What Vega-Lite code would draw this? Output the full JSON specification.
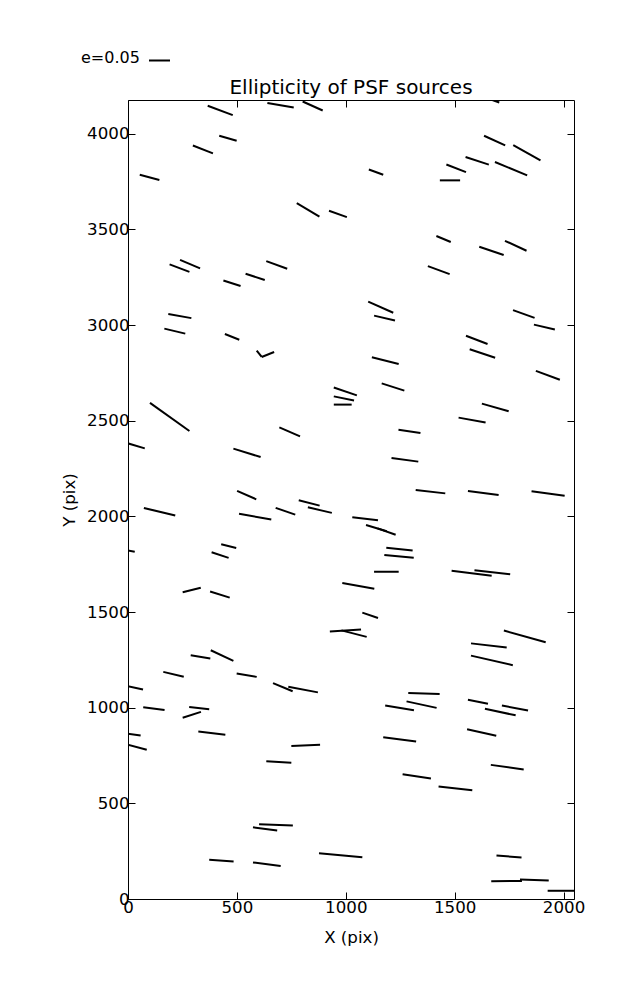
{
  "$schema": "https://vega.github.io/schema/vega-lite/v6.json",
  "width": 446,
  "height": 799,
  "autosize": "none",
  "padding": {"left": 128, "top": 100, "right": 63, "bottom": 101},
  "background": "white",
  "config": {
    "font": "DejaVu Sans",
    "view": {"stroke": "black", "strokeWidth": 1},
    "axis": {
      "domain": false,
      "grid": false,
      "tickSize": -7,
      "tickColor": "black",
      "tickWidth": 1,
      "labelColor": "black",
      "labelFont": "DejaVu Sans",
      "labelFontSize": 16.67,
      "labelPadding": 7,
      "labelFlush": false,
      "labelOverlap": false,
      "labelBound": false,
      "format": "d",
      "titleFont": "DejaVu Sans",
      "titleFontSize": 16.67,
      "titleFontWeight": "normal",
      "titleColor": "black"
    }
  },
  "title": {"text": "Ellipticity of PSF sources", "font": "DejaVu Sans", "fontSize": 20, "fontWeight": "normal", "color": "black", "anchor": "middle", "offset": -49},
  "data": {"values": [
    {"x": 366, "y": 4146, "x2": 481, "y2": 4097},
    {"x": 640, "y": 4160, "x2": 761, "y2": 4137},
    {"x": 802, "y": 4168, "x2": 894, "y2": 4121},
    {"x": 419, "y": 3989, "x2": 499, "y2": 3963},
    {"x": 298, "y": 3938, "x2": 390, "y2": 3897},
    {"x": 54, "y": 3785, "x2": 144, "y2": 3758},
    {"x": 775, "y": 3637, "x2": 879, "y2": 3567},
    {"x": 923, "y": 3597, "x2": 1005, "y2": 3564},
    {"x": 191, "y": 3317, "x2": 282, "y2": 3278},
    {"x": 239, "y": 3340, "x2": 331, "y2": 3296},
    {"x": 438, "y": 3233, "x2": 517, "y2": 3204},
    {"x": 540, "y": 3268, "x2": 628, "y2": 3235},
    {"x": 635, "y": 3334, "x2": 731, "y2": 3294},
    {"x": 1650, "y": 4185, "x2": 1705, "y2": 4163},
    {"x": 1635, "y": 3989, "x2": 1732, "y2": 3939},
    {"x": 1769, "y": 3940, "x2": 1894, "y2": 3860},
    {"x": 1106, "y": 3813, "x2": 1172, "y2": 3785},
    {"x": 1462, "y": 3839, "x2": 1552, "y2": 3799},
    {"x": 1550, "y": 3878, "x2": 1657, "y2": 3838},
    {"x": 1685, "y": 3852, "x2": 1833, "y2": 3782},
    {"x": 1432, "y": 3756, "x2": 1525, "y2": 3756},
    {"x": 1416, "y": 3465, "x2": 1482, "y2": 3434},
    {"x": 1613, "y": 3409, "x2": 1725, "y2": 3366},
    {"x": 1731, "y": 3440, "x2": 1830, "y2": 3388},
    {"x": 1377, "y": 3308, "x2": 1477, "y2": 3266},
    {"x": 185, "y": 3057, "x2": 291, "y2": 3036},
    {"x": 167, "y": 2981, "x2": 263, "y2": 2955},
    {"x": 445, "y": 2953, "x2": 511, "y2": 2923},
    {"x": 591, "y": 2866, "x2": 614, "y2": 2833},
    {"x": 614, "y": 2833, "x2": 671, "y2": 2859},
    {"x": 101, "y": 2593, "x2": 282, "y2": 2446},
    {"x": -5, "y": 2383, "x2": 77, "y2": 2355},
    {"x": 484, "y": 2354, "x2": 609, "y2": 2310},
    {"x": 695, "y": 2465, "x2": 790, "y2": 2418},
    {"x": 501, "y": 2133, "x2": 589, "y2": 2089},
    {"x": 1103, "y": 3122, "x2": 1218, "y2": 3064},
    {"x": 1130, "y": 3049, "x2": 1226, "y2": 3024},
    {"x": 1768, "y": 3078, "x2": 1867, "y2": 3037},
    {"x": 1864, "y": 3002, "x2": 1960, "y2": 2977},
    {"x": 1552, "y": 2944, "x2": 1651, "y2": 2901},
    {"x": 1569, "y": 2873, "x2": 1686, "y2": 2829},
    {"x": 1120, "y": 2831, "x2": 1243, "y2": 2796},
    {"x": 1873, "y": 2760, "x2": 1983, "y2": 2714},
    {"x": 1165, "y": 2695, "x2": 1269, "y2": 2657},
    {"x": 945, "y": 2673, "x2": 1051, "y2": 2632},
    {"x": 945, "y": 2627, "x2": 1038, "y2": 2605},
    {"x": 945, "y": 2584, "x2": 1027, "y2": 2584},
    {"x": 1625, "y": 2589, "x2": 1748, "y2": 2549},
    {"x": 1518, "y": 2516, "x2": 1642, "y2": 2491},
    {"x": 1242, "y": 2453, "x2": 1343, "y2": 2436},
    {"x": 1210, "y": 2305, "x2": 1333, "y2": 2286},
    {"x": 1321, "y": 2138, "x2": 1457, "y2": 2120},
    {"x": 1561, "y": 2133, "x2": 1702, "y2": 2112},
    {"x": 1853, "y": 2131, "x2": 2005, "y2": 2107},
    {"x": 784, "y": 2084, "x2": 880, "y2": 2056},
    {"x": 826, "y": 2047, "x2": 936, "y2": 2018},
    {"x": 73, "y": 2044, "x2": 217, "y2": 2004},
    {"x": 510, "y": 2014, "x2": 658, "y2": 1983},
    {"x": 678, "y": 2044, "x2": 768, "y2": 2009},
    {"x": -10, "y": 1823, "x2": 31, "y2": 1815},
    {"x": 428, "y": 1854, "x2": 497, "y2": 1835},
    {"x": 384, "y": 1812, "x2": 462, "y2": 1783},
    {"x": 251, "y": 1603, "x2": 334, "y2": 1627},
    {"x": 377, "y": 1607, "x2": 467, "y2": 1575},
    {"x": 288, "y": 1274, "x2": 378, "y2": 1257},
    {"x": 380, "y": 1300, "x2": 484, "y2": 1245},
    {"x": 162, "y": 1187, "x2": 256, "y2": 1162},
    {"x": 499, "y": 1178, "x2": 591, "y2": 1161},
    {"x": 666, "y": 1128, "x2": 756, "y2": 1086},
    {"x": 736, "y": 1109, "x2": 872, "y2": 1080},
    {"x": -10, "y": 1115, "x2": 69, "y2": 1095},
    {"x": 1030, "y": 1995, "x2": 1148, "y2": 1979},
    {"x": 1093, "y": 1955, "x2": 1188, "y2": 1922},
    {"x": 1146, "y": 1937, "x2": 1229, "y2": 1904},
    {"x": 1186, "y": 1836, "x2": 1307, "y2": 1822},
    {"x": 1177, "y": 1798, "x2": 1312, "y2": 1783},
    {"x": 1130, "y": 1710, "x2": 1243, "y2": 1711},
    {"x": 1486, "y": 1715, "x2": 1670, "y2": 1689},
    {"x": 1591, "y": 1718, "x2": 1755, "y2": 1697},
    {"x": 984, "y": 1652, "x2": 1131, "y2": 1622},
    {"x": 1076, "y": 1497, "x2": 1148, "y2": 1469},
    {"x": 927, "y": 1398, "x2": 1070, "y2": 1408},
    {"x": 980, "y": 1404, "x2": 1096, "y2": 1370},
    {"x": 1726, "y": 1403, "x2": 1918, "y2": 1342},
    {"x": 1575, "y": 1336, "x2": 1739, "y2": 1314},
    {"x": 1575, "y": 1272, "x2": 1767, "y2": 1222},
    {"x": 1287, "y": 1077, "x2": 1431, "y2": 1072},
    {"x": 70, "y": 1002, "x2": 168, "y2": 988},
    {"x": 281, "y": 1004, "x2": 373, "y2": 992},
    {"x": 251, "y": 947, "x2": 335, "y2": 978},
    {"x": 323, "y": 875, "x2": 447, "y2": 859},
    {"x": -5, "y": 865, "x2": 58, "y2": 854},
    {"x": -5, "y": 808, "x2": 86, "y2": 780},
    {"x": 750, "y": 800, "x2": 882, "y2": 806},
    {"x": 635, "y": 720, "x2": 750, "y2": 712},
    {"x": 602, "y": 391, "x2": 757, "y2": 384},
    {"x": 574, "y": 375, "x2": 685, "y2": 358},
    {"x": 373, "y": 205, "x2": 485, "y2": 196},
    {"x": 574, "y": 191, "x2": 701, "y2": 173},
    {"x": 1279, "y": 1033, "x2": 1417, "y2": 999},
    {"x": 1181, "y": 1011, "x2": 1313, "y2": 986},
    {"x": 1561, "y": 1041, "x2": 1653, "y2": 1020},
    {"x": 1639, "y": 994, "x2": 1780, "y2": 960},
    {"x": 1717, "y": 1011, "x2": 1837, "y2": 985},
    {"x": 1557, "y": 887, "x2": 1691, "y2": 853},
    {"x": 1172, "y": 845, "x2": 1323, "y2": 823},
    {"x": 1666, "y": 701, "x2": 1817, "y2": 677},
    {"x": 1261, "y": 652, "x2": 1391, "y2": 630},
    {"x": 1426, "y": 588, "x2": 1581, "y2": 568},
    {"x": 877, "y": 239, "x2": 1076, "y2": 218},
    {"x": 1692, "y": 227, "x2": 1807, "y2": 217},
    {"x": 1668, "y": 93, "x2": 1809, "y2": 94},
    {"x": 1800, "y": 102, "x2": 1932, "y2": 97},
    {"x": 1927, "y": 43, "x2": 2060, "y2": 43}
  ]},
  "layer": [
    {
      "mark": {"type": "rule", "strokeWidth": 2, "strokeCap": "butt", "clip": true},
      "encoding": {
        "x": {"field": "x", "type": "quantitative", "scale": {"domain": [0, 2048], "nice": false, "zero": false},
              "axis": {"orient": "bottom", "values": [0, 500, 1000, 1500, 2000], "title": "X (pix)", "titlePadding": 14}},
        "y": {"field": "y", "type": "quantitative", "scale": {"domain": [0, 4176], "nice": false, "zero": false},
              "axis": {"orient": "left", "values": [0, 500, 1000, 1500, 2000, 2500, 3000, 3500, 4000], "title": "Y (pix)", "titlePadding": 8, "labelPadding": 6}},
        "x2": {"field": "x2"},
        "y2": {"field": "y2"},
        "color": {"datum": "e", "type": "nominal", "scale": {"range": ["black"]},
                  "legend": {"title": "e=0.05", "titleOrient": "left", "titleAnchor": "end", "titleFontSize": 16, "titleFontWeight": "normal", "titleColor": "black", "titleFont": "DejaVu Sans", "titlePadding": 8, "titleBaseline": "bottom", "labelExpr": "''", "symbolType": "stroke", "symbolSize": 441, "symbolStrokeWidth": 2, "symbolStrokeColor": "black", "orient": "none", "legendX": -47, "legendY": -51}}
      }
    },
    {
      "mark": {"type": "rule", "opacity": 0},
      "encoding": {
        "x": {"field": "x", "type": "quantitative", "scale": {"domain": [0, 2048], "nice": false, "zero": false},
              "axis": {"orient": "top", "values": [0, 500, 1000, 1500, 2000], "labels": false, "title": null}},
        "y": {"field": "y", "type": "quantitative", "scale": {"domain": [0, 4176], "nice": false, "zero": false},
              "axis": {"orient": "right", "values": [0, 500, 1000, 1500, 2000, 2500, 3000, 3500, 4000], "labels": false, "title": null}},
        "x2": {"field": "x2"},
        "y2": {"field": "y2"}
      }
    }
  ],
  "resolve": {"axis": {"x": "independent", "y": "independent"}}
}
